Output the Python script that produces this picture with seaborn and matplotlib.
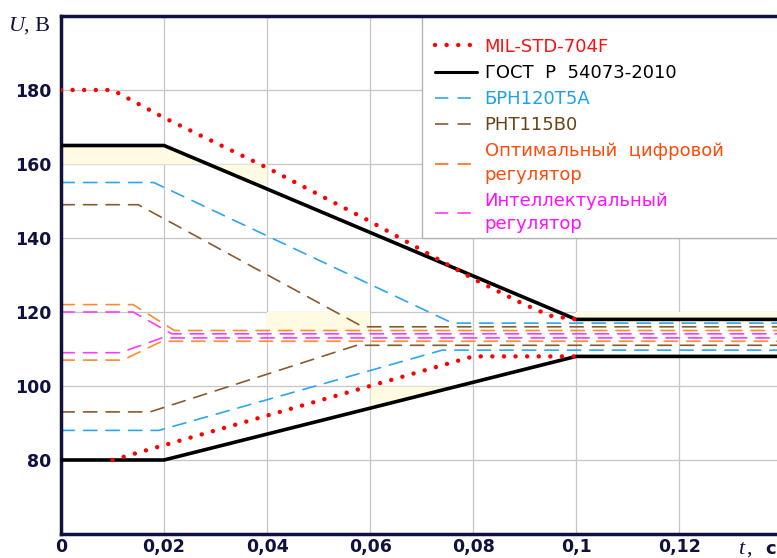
import numpy as np
import pandas as pd
import matplotlib.pyplot as plt
import seaborn as sns
from matplotlib.lines import Line2D
from matplotlib.patches import Rectangle

# === Data ===
t_end = 0.139

# MIL-STD-704F limits (red dotted)
mil_up_t = [0, 0.01, 0.02, 0.04, 0.06, 0.08, 0.09, 0.095, 0.1]
mil_up_u = [180, 180, 172.5, 159, 144.5, 129, 122, 119, 118]
mil_lo_t = [0.01, 0.02, 0.04, 0.06, 0.08, 0.1]
mil_lo_u = [80, 84, 92, 100, 108, 108]

# GOST R 54073-2010 limits (black solid)
gost_t = [0, 0.02, 0.1, t_end]
gost_up = [165, 165, 118, 118]
gost_lo = [80, 80, 108, 108]

# BRN120T5A (blue dashed)
brn_up_t = [0, 0.018, 0.076, t_end]
brn_up_u = [155, 155, 117, 117]
brn_lo_t = [0, 0.019, 0.074, t_end]
brn_lo_u = [88, 88, 109.7, 109.7]

# RNT115V0 (brown dashed)
rnt_up_t = [0, 0.015, 0.0586, t_end]
rnt_up_u = [149, 149, 116, 116]
rnt_lo_t = [0, 0.0173, 0.0574, t_end]
rnt_lo_u = [93, 93, 111, 111]

# optimal digital regulator (orange dashed)
opt_up_t = [0, 0.014, 0.022, t_end]
opt_up_u = [122, 122, 115, 115]
opt_lo_t = [0, 0.012, 0.0196, t_end]
opt_lo_u = [107, 107, 112.1, 112.1]

# intelligent regulator (magenta dashed)
int_up_t = [0, 0.014, 0.0215, t_end]
int_up_u = [120, 120, 114.1, 114.1]
int_lo_t = [0, 0.0115, 0.0196, t_end]
int_lo_u = [109, 109, 113, 113]

x_ticks = [0, 0.02, 0.04, 0.06, 0.08, 0.1, 0.12]
x_tick_labels = ["0", "0,02", "0,04", "0,06", "0,08", "0,1", "0,12"]
y_ticks = [80, 100, 120, 140, 160, 180]

legend_labels = [
    "MIL-STD-704F",
    "ГОСТ  Р  54073-2010",
    "БРН120Т5А",
    "РНТ115В0",
    "Оптимальный  цифровой\nрегулятор",
    "Интеллектуальный\nрегулятор",
]

# === Style ===
sns.set_style("white")
plt.rcParams["font.family"] = ["DejaVu Sans"]

navy = "#11113f"
c_red = "#ff0000"
c_blue = "#2ba6f2"
c_brown = "#8a5a2c"
c_orange = "#ff8a30"
c_magenta = "#ff3cf5"
c_shade = "#fffbe3"

fig = plt.figure(figsize=(7.77, 5.58), dpi=100)
ax = fig.add_axes([61 / 777, 24 / 558, 716 / 777, 518 / 558])

# light yellow patches seen in the reference
xs = np.linspace(0, 0.04, 50)
ax.fill_between(xs, 160, np.interp(xs, gost_t, gost_up), color=c_shade, lw=0, zorder=1)
ax.fill_between([0.04, 0.06], 115, 120, color=c_shade, lw=0, zorder=1)
xs = np.linspace(0.06, 0.0771, 20)
ax.fill_between(xs, np.interp(xs, gost_t, gost_lo), 100, color=c_shade, lw=0, zorder=1)
ax.fill_between([0.1, t_end], 118, 120, color=c_shade, lw=0, zorder=1)

dash = (0, (8, 5.5))
dotted = (0, (0.01, 2.6))

# dashed regulator curves
for tt, uu, col in [
    (brn_up_t, brn_up_u, c_blue), (brn_lo_t, brn_lo_u, c_blue),
    (rnt_up_t, rnt_up_u, c_brown), (rnt_lo_t, rnt_lo_u, c_brown),
    (opt_up_t, opt_up_u, c_orange), (opt_lo_t, opt_lo_u, c_orange),
    (int_up_t, int_up_u, c_magenta), (int_lo_t, int_lo_u, c_magenta),
]:
    sns.lineplot(x=tt, y=uu, ax=ax, color=col, lw=1.2, linestyle=dash,
                 estimator=None, sort=False, zorder=2.5)

# GOST bounds
for uu in (gost_up, gost_lo):
    sns.lineplot(x=gost_t, y=uu, ax=ax, color="black", lw=2.6,
                 estimator=None, sort=False, zorder=3)

# MIL-STD bounds
for tt, uu in ((mil_up_t, mil_up_u), (mil_lo_t, mil_lo_u)):
    sns.lineplot(x=tt, y=uu, ax=ax, color=c_red, lw=3.2, linestyle=dotted,
                 estimator=None, sort=False, zorder=4)
for ln in ax.lines:
    ln.set_dash_capstyle("round")

ax.set_xlim(0, t_end)
ax.set_ylim(60, 200)
ax.set_xticks(x_ticks)
ax.set_xticklabels(x_tick_labels)
ax.set_yticks(y_ticks)
ax.tick_params(length=0, labelsize=12.5, labelcolor=navy)
ax.tick_params(axis="x", pad=3)
ax.tick_params(axis="y", pad=7)
for lab in ax.get_xticklabels() + ax.get_yticklabels():
    lab.set_fontweight("bold")
ax.set_xlabel("")
ax.set_ylabel("")

ax.set_axisbelow(True)
ax.grid(True, color="#c6c6c6", lw=0.9)
for side in ("left", "bottom", "top"):
    ax.spines[side].set_color(navy)
    ax.spines[side].set_linewidth(2.5)
ax.spines["right"].set_visible(False)

# white legend box
ax.add_patch(Rectangle((0.0701, 140), 0.1, 60, facecolor="white",
                       edgecolor="#b4b4b4", lw=1, zorder=1.5, clip_on=False))

handles = [
    Line2D([], [], color=c_red, lw=3.2, linestyle=dotted, dash_capstyle="round"),
    Line2D([], [], color="black", lw=2.2),
    Line2D([], [], color=c_blue, lw=1.2, linestyle=dash),
    Line2D([], [], color=c_brown, lw=1.2, linestyle=dash),
    Line2D([], [], color="#ff6a10", lw=1.2, linestyle=dash),
    Line2D([], [], color=c_magenta, lw=1.2, linestyle=dash),
]
label_colors = ["#ff1010", "black", "#1ea0f0", "#6b4215", "#ff4a0a", "#ff10ff"]
leg = ax.legend(handles, legend_labels, loc="upper left",
                bbox_to_anchor=(0.0712 / t_end, 0.972), frameon=False,
                fontsize=13, labelcolor=label_colors, handlelength=2.3,
                handletextpad=0.45, labelspacing=0.45, borderaxespad=0)
for txt in leg.get_texts():
    txt.set_linespacing(1.38)

# axis captions
fig.text(9 / 777, 1 - 31 / 558, "U", family="Liberation Serif", style="italic",
         fontsize=16, color=navy)
fig.text(24 / 777, 1 - 31 / 558, ", В", family="Liberation Serif",
         fontsize=16, color=navy)
fig.text(738 / 777, 1 - 554 / 558, "t", family="Liberation Serif", style="italic",
         fontsize=16, color=navy)
fig.text(746 / 777, 1 - 554 / 558, ",", family="Liberation Serif",
         fontsize=16, color=navy)
fig.text(765 / 777, 1 - 554 / 558, "с", fontsize=13, fontweight="bold", color=navy)

fig.savefig("out.png", dpi=100)
